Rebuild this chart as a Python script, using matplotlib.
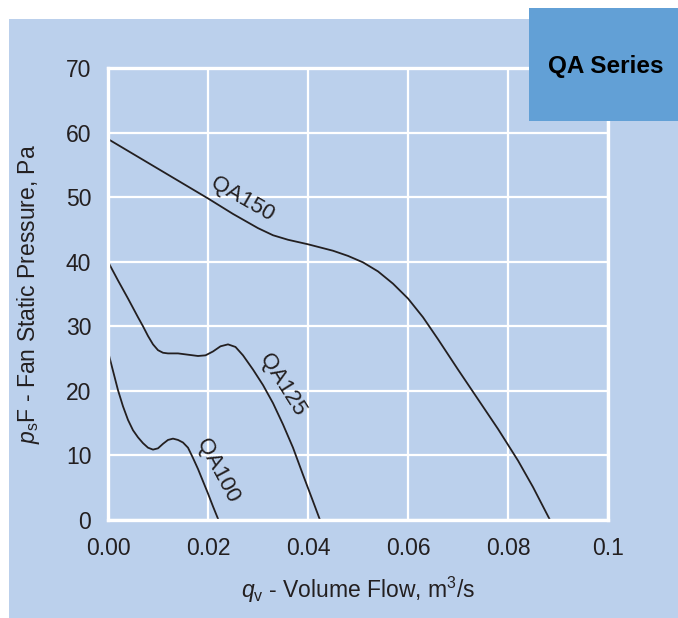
import matplotlib
matplotlib.use("Agg")
import matplotlib.pyplot as plt
from matplotlib.patches import Rectangle

plt.rcParams['font.family'] = ['Liberation Sans', 'DejaVu Sans']
plt.rcParams['mathtext.fontset'] = 'custom'
plt.rcParams['mathtext.rm'] = 'Liberation Sans'
plt.rcParams['mathtext.it'] = 'Liberation Sans:italic'

# fan curves (m3/s, Pa)
qa150_x = [0, 0.005, 0.01, 0.015, 0.02, 0.025, 0.03, 0.033, 0.036, 0.04, 0.045, 0.048,
           0.051, 0.054, 0.057, 0.06, 0.063, 0.066, 0.07, 0.074, 0.078, 0.082, 0.085, 0.0884]
qa150_y = [59, 56.7, 54.4, 52.1, 49.8, 47.4, 45.2, 44.1, 43.4, 42.7, 41.7, 40.9,
           39.9, 38.5, 36.6, 34.3, 31.4, 28.0, 23.3, 18.7, 14.1, 9.2, 5.1, 0]

qa125_x = [0, 0.002, 0.004, 0.006, 0.007, 0.008, 0.009, 0.010, 0.011, 0.012, 0.014, 0.016,
           0.018, 0.0195, 0.021, 0.0225, 0.024, 0.0255, 0.027, 0.029, 0.031, 0.033, 0.035,
           0.037, 0.039, 0.041, 0.0424]
qa125_y = [40, 37.1, 34.3, 31.4, 30.0, 28.5, 27.2, 26.3, 25.9, 25.8, 25.8, 25.6,
           25.4, 25.5, 26.1, 26.9, 27.2, 26.8, 25.5, 23.3, 20.9, 18.1, 14.8,
           11.2, 7.0, 2.9, 0]

qa100_x = [0, 0.001, 0.002, 0.003, 0.004, 0.005, 0.006, 0.007, 0.008, 0.009, 0.010, 0.011,
           0.012, 0.013, 0.014, 0.015, 0.016, 0.017, 0.018, 0.019, 0.020, 0.021, 0.0221]
qa100_y = [26.1, 23.1, 20.1, 17.6, 15.5, 13.9, 12.8, 11.9, 11.2, 10.9, 11.1, 11.8,
           12.4, 12.6, 12.4, 12.0, 11.2, 9.6, 7.9, 6.0, 4.1, 2.1, 0]

x_ticks = [0, 0.02, 0.04, 0.06, 0.08, 0.1]
x_labels = ["0.00", "0.02", "0.04", "0.06", "0.08", "0.1"]
y_ticks = [0, 10, 20, 30, 40, 50, 60, 70]

panel = "#bbd0ec"
dark = "#231f20"

fig = plt.figure(figsize=(6.78, 6.18), dpi=100)
fig.patches.append(Rectangle((9/678, 0), 1, 1 - 19/618, transform=fig.transFigure,
                             facecolor=panel, edgecolor="none", zorder=-1))
fig.patches.append(Rectangle((529/678, 1 - 121/618), 1, 113/618, transform=fig.transFigure,
                             facecolor="#62a0d6", edgecolor="none", zorder=5))
fig.text(606/678, 1 - 66/618, "QA Series", ha="center", va="center",
         fontsize=17.5, fontweight="bold", color="black", zorder=6)

ax = fig.add_axes([108/678, 1 - 520/618, 500/678, 452/618])
ax.set_facecolor(panel)
ax.plot(qa150_x, qa150_y, color=dark, lw=1.3)
ax.plot(qa125_x, qa125_y, color=dark, lw=1.3)
ax.plot(qa100_x, qa100_y, color=dark, lw=1.3)

ax.text(0.0268, 49.6, "QA150", rotation=-30, ha="center", va="center", fontsize=16, color=dark)
ax.text(0.0349, 20.9, "QA125", rotation=-58, ha="center", va="center", fontsize=16, color=dark)
ax.text(0.0220, 7.6, "QA100", rotation=-62, ha="center", va="center", fontsize=16, color=dark)

ax.set_xlim(0, 0.1)
ax.set_ylim(0, 70)
ax.set_xticks(x_ticks)
ax.set_xticklabels(x_labels)
ax.set_yticks(y_ticks)
ax.tick_params(length=0, labelsize=16.5, labelcolor=dark, pad=12)
ax.grid(True, color="white", lw=1.6)
ax.set_axisbelow(True)
for s in ax.spines.values():
    s.set_color("white")
    s.set_linewidth(2.4)

ax.set_xlabel("$q_{\\mathrm{v}}$ - Volume Flow, m$^{3}$/s", fontsize=16.5, color=dark, labelpad=11)
ax.set_ylabel("$p_{\\mathrm{s}}$F - Fan Static Pressure, Pa", fontsize=16.5, color=dark, labelpad=17)

fig.savefig("out.png", dpi=100)
